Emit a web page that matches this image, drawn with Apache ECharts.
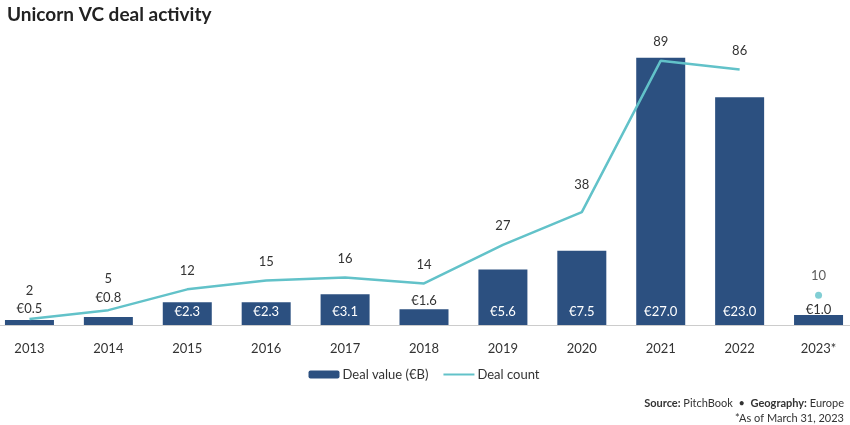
<!DOCTYPE html>
<html>
<head>
<meta charset="utf-8">
<script src="https://cdn.jsdelivr.net/npm/echarts@6/dist/echarts.min.js"></script>
<style>
html,body{margin:0;padding:0;background:#fff;overflow:hidden;width:850px;height:425px;position:relative;}
#c{position:absolute;left:-10px;top:0;width:868px;height:425px;}
</style>
</head>
<body>
<div id="c"></div>
<script>
const categories = ['2013','2014','2015','2016','2017','2018','2019','2020','2021','2022','2023*'];
const dealValue = [0.5, 0.8, 2.3, 2.3, 3.1, 1.6, 5.6, 7.5, 27.0, 23.0, 1.0];
const dealCount = [2, 5, 12, 15, 16, 14, 27, 38, 89, 86, 10];
const dealCountYtdIndex = 10; // 2023* shown as a separate dot

const BAR = '#2c5080';
const TEAL = '#62c2c9';
const TXT = '#333333';
const FONT = 'Lato';
const SHIFT = 10; // chart div starts 10px left of the page

const smallBar = v => v < 2;
const barLabelDist = {0: 5, 1: 13, 10: -1};
const countLabelDist = {0: 22, 1: 25, 7: 21};

const barData = dealValue.map((v, i) => ({
  value: v,
  label: smallBar(v)
    ? {position: 'top', distance: barLabelDist[i] !== undefined ? barLabelDist[i] : 2, color: TXT}
    : {position: 'insideBottom', distance: 7, color: '#ffffff'}
}));

const lineData = dealCount.map((v, i) => i === dealCountYtdIndex ? '-' : {
  value: v,
  label: {distance: countLabelDist[i] !== undefined ? countLabelDist[i] : 12}
});
const dotData = dealCount.map((v, i) => i === dealCountYtdIndex ? v : '-');

const chart = echarts.init(document.getElementById('c'));
chart.setOption({
  animation: false,
  textStyle: {fontFamily: FONT},
  title: {
    text: 'Unicorn VC deal activity',
    left: 2 + SHIFT, top: 0,
    textStyle: {fontFamily: FONT, fontWeight: 'bold', fontSize: 19, color: '#222'}
  },
  legend: {
    data: [
      {name: 'Deal value (€B)'},
      {name: 'Deal count', itemStyle: {opacity: 0}, lineStyle: {width: 2}}
    ],
    top: 363, left: 'center',
    itemWidth: 31, itemHeight: 8, itemGap: 14,
    textStyle: {fontFamily: FONT, fontSize: 13, color: TXT, padding: [0,0,0,-2]}
  },
  grid: {left: 0, right: 0, top: 28, bottom: 100, containLabel: false},
  xAxis: {
    type: 'category',
    data: categories,
    axisLine: {lineStyle: {color: '#cccccc', width: 1}},
    axisTick: {show: false},
    axisLabel: {color: TXT, fontSize: 13, fontFamily: FONT, margin: 17}
  },
  yAxis: [
    {type: 'value', min: 0, max: 30, show: false, splitLine: {show: false}},
    {type: 'value', min: 0, max: 100, show: false, splitLine: {show: false}}
  ],
  series: [
    {
      name: 'Deal value (€B)',
      type: 'bar',
      data: barData,
      barWidth: 49,
      itemStyle: {color: BAR},
      label: {show: true, fontSize: 13, fontFamily: FONT, formatter: p => '€' + p.value.toFixed(1)},
      z: 2
    },
    {
      name: 'Deal count',
      type: 'line',
      yAxisIndex: 1,
      data: lineData,
      symbol: 'circle',
      symbolSize: 0.1,
      showSymbol: true,
      lineStyle: {color: TEAL, width: 2.5},
      itemStyle: {color: TEAL},
      label: {show: true, position: 'top', color: TXT, fontSize: 13, fontFamily: FONT},
      z: 3
    },
    {
      name: 'Deal count YTD',
      type: 'scatter',
      yAxisIndex: 1,
      data: dotData,
      symbolSize: 7,
      itemStyle: {color: TEAL},
      label: {show: true, position: 'top', distance: 9, color: TXT, fontSize: 13, fontFamily: FONT},
      z: 3
    }
  ],
  graphic: [
    {
      type: 'text', right: 6 + 8, top: 398,
      style: {
        text: '{b|Source:} PitchBook  •  {b|Geography:} Europe',
        rich: {b: {fontWeight: 'bold', fontFamily: FONT, fontSize: 11, fill: TXT}},
        font: '11px Lato', fill: TXT
      }
    },
    {
      type: 'text', right: 6 + 8, top: 413,
      style: {text: '*As of March 31, 2023', font: '11px Lato', fill: TXT}
    }
  ]
});
</script>
</body>
</html>
